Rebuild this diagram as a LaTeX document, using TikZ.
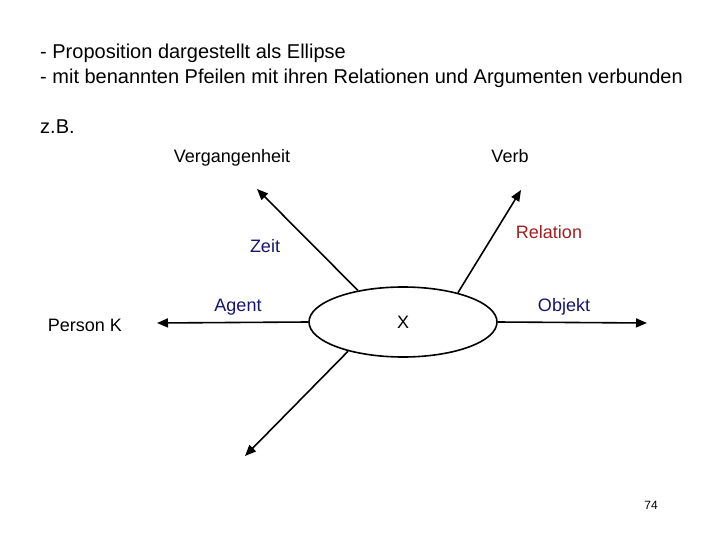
\documentclass[tikz,border=0pt]{standalone}
\usepackage{fontspec}
\setmainfont{Liberation Sans}
\usetikzlibrary{shapes.geometric}
\usetikzlibrary{arrows.meta}

\definecolor{argblue}{RGB}{20,20,110}
\definecolor{relred}{RGB}{160,30,30}

\tikzset{
  txt/.style={font=\fontsize{18}{22}\selectfont, inner sep=0pt, anchor=base},
  kopf/.style={font=\fontsize{20}{24}\selectfont, inner sep=0pt, anchor=base west},
  arg/.style={txt, text=argblue},
  rel/.style={txt, text=relred},
  pfeil/.style={line width=1.6pt, -{Triangle[length=11pt,width=9pt]}}
}

\begin{document}
\begin{tikzpicture}[x=1pt,y=-1pt]
        \useasboundingbox (0,0) rectangle (720,540);

        \node[kopf] (zeile1) at (40,59) {- Proposition dargestellt als Ellipse};
        \node[kopf] (zeile2) at (40,84) {- mit benannten Pfeilen mit ihren Relationen und Argumenten verbunden};
        \node[kopf] (zb) at (40,134) {z.B.};

        \node[draw, ellipse, line width=1.6pt, minimum width=188pt, minimum height=70pt, inner sep=0pt,
              font=\fontsize{18}{22}\selectfont] (prop) at (403,322) {X};

        \coordinate (zeit) at (257,189);
        \coordinate (verb) at (521,190);
        \coordinate (agent) at (157,323);
        \coordinate (objekt) at (647,323);
        \coordinate (unten) at (245,456);

        \draw[pfeil] (prop.145) -- (zeit);
        \draw[pfeil] (prop.28) -- (verb);
        \draw[pfeil] (prop.west) -- (agent);
        \draw[pfeil] (prop.east) -- (objekt);
        \draw[pfeil] (prop.208) -- (unten);

        \node[txt] (vergangenheit) at (232,163) {Vergangenheit};
        \node[txt] (verbtxt) at (510,163) {Verb};
        \node[arg] (zeittxt) at (265,252) {Zeit};
        \node[rel] (relation) at (549,238) {Relation};
        \node[arg] (agenttxt) at (238,311) {Agent};
        \node[txt] (person) at (85,331) {Person K};
        \node[arg] (objekttxt) at (564,311) {Objekt};
        \node[txt, font=\fontsize{12}{14}\selectfont] (seite) at (651,509) {74};
    \end{tikzpicture}
\end{document}
